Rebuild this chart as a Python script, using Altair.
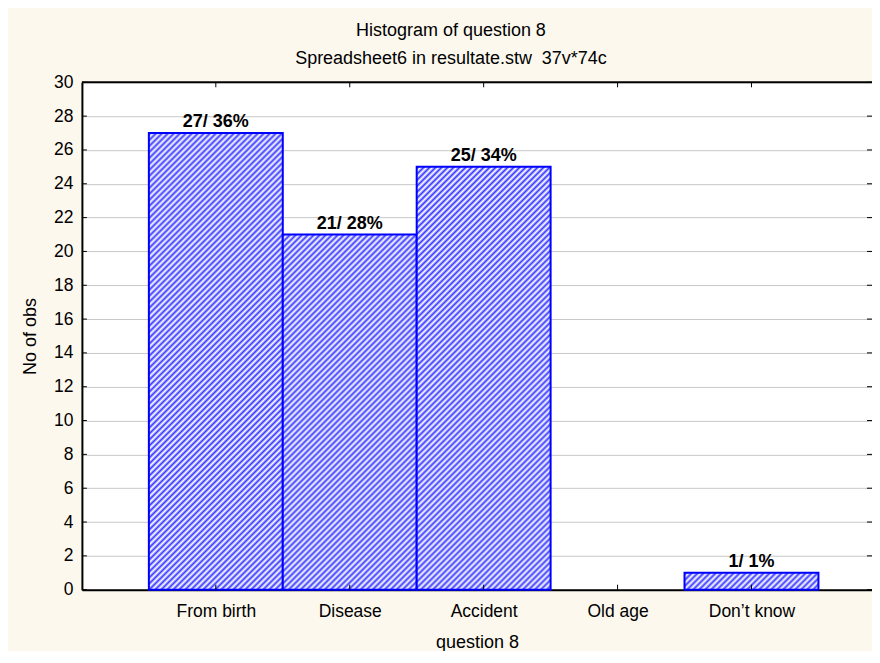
import json
import altair as alt
import pandas as pd

# ---- data ----
categories = ["From birth", "Disease", "Accident", "Old age", "Don\u2019t know"]
counts = [27, 21, 25, 0, 1]
percents = [36, 28, 34, 0, 1]
y_ticks = list(range(0, 31, 2))

# ---- layout ----
UNIT_W = 134
X_DOMAIN = [-1, 4.9]
W = round(UNIT_W * (X_DOMAIN[1] - X_DOMAIN[0]))
H = 508
Y_MAX = 30
UNIT_H = H / Y_MAX
FONT = "Arial, Liberation Sans, sans-serif"
FS = 18
FS_TICK = 17.5

df = pd.DataFrame({
    "cat": categories,
    "pos": list(range(len(categories))),
    "count": counts,
    "pct": percents,
})
df["x0"] = df["pos"] - 0.5
df["x1"] = df["pos"] + 0.5
df["label"] = [f"{c}/ {p}%" for c, p in zip(counts, percents)]
df_nz = df[df["count"] > 0]


def stripes(w, h, period=6.0, blue="#3C3CFF", white="#FFFFFF"):
    """45-degree '/' hatch as a linear gradient (bbox units), 2 stops per period."""
    L = w + h
    a = L / (w * (1 + (h / w) ** 2))
    stops = []
    k = 0
    while k * period / L < 1:
        ob = (k + 0.25) * period / L
        ow = (k + 0.75) * period / L
        if ob <= 1:
            stops.append(alt.GradientStop(offset=round(ob, 5), color=blue))
        if ow <= 1:
            stops.append(alt.GradientStop(offset=round(ow, 5), color=white))
        k += 1
    return alt.LinearGradient(gradient="linear", stops=stops,
                              x1=0, y1=0, x2=a, y2=a * h / w)


x_scale = alt.Scale(domain=X_DOMAIN, nice=False, zero=False)
y_scale = alt.Scale(domain=[0, Y_MAX], nice=False, zero=False)

x_axis = alt.Axis(
    values=list(range(len(categories))),
    labelExpr=json.dumps(categories) + "[datum.value]",
    grid=False, ticks=False,
    domain=True, domainColor="black", domainWidth=2,
    labelFontSize=FS_TICK, labelFont=FONT, labelColor="black", labelPadding=13,
    labelOverlap=False, labelFlush=False,
    title="question 8", titleFontSize=FS, titleFont=FONT, titleFontWeight="normal",
    titleColor="black", titleBaseline="alphabetic", titleY=58,
)
y_axis = alt.Axis(
    values=y_ticks,
    grid=True, gridColor="#C8C8C8", gridWidth=1,
    ticks=False,
    domain=True, domainColor="black", domainWidth=2,
    labelFontSize=FS_TICK, labelFont=FONT, labelColor="black", labelPadding=9,
    title="No of obs", titleFontSize=FS, titleFont=FONT, titleFontWeight="normal",
    titleColor="black", titleAngle=270, titleBaseline="alphabetic",
    titleAlign="center", titleX=-46, titleY=H / 2,
)

X = alt.X("x0:Q", scale=x_scale, axis=x_axis)
Y = alt.Y("count:Q", scale=y_scale, axis=y_axis)

layers = []
for i, n in enumerate(counts):
    if n <= 0:
        continue
    layers.append(
        alt.Chart(df)
        .transform_filter(alt.datum.pos == i)
        .mark_rect(fill=stripes(UNIT_W, n * UNIT_H), stroke="#0000FF", strokeWidth=2)
        .encode(x=X, x2="x1:Q", y=Y, y2=alt.datum(0))
    )

labels = (
    alt.Chart(df_nz)
    .mark_text(font=FONT, fontSize=FS, fontWeight="bold", color="black",
               baseline="alphabetic", dy=-6)
    .encode(x=alt.X("pos:Q", scale=x_scale, axis=x_axis),
            y=alt.Y("count:Q", scale=y_scale, axis=y_axis),
            text="label:N")
)

tick_df = pd.DataFrame({"v": y_ticks})
left_ticks = alt.Chart(tick_df).mark_rule(color="black", strokeWidth=1).encode(
    y=alt.Y("v:Q", scale=y_scale, axis=y_axis), x=alt.value(0), x2=alt.value(5))
right_ticks = alt.Chart(tick_df).mark_rule(color="black", strokeWidth=1).encode(
    y=alt.Y("v:Q", scale=y_scale, axis=y_axis), x=alt.value(W - 5), x2=alt.value(W))
bottom_ticks = alt.Chart(df).mark_rule(color="black", strokeWidth=1).encode(
    x=alt.X("pos:Q", scale=x_scale, axis=x_axis), y=alt.value(H - 5), y2=alt.value(H))
top_ticks = alt.Chart(df).mark_rule(color="black", strokeWidth=1).encode(
    x=alt.X("pos:Q", scale=x_scale, axis=x_axis), y=alt.value(0), y2=alt.value(5))
top_border = alt.Chart(df.head(1)).mark_rule(color="black", strokeWidth=2).encode(
    y=alt.value(0), x=alt.value(0), x2=alt.value(W))

chart = (
    alt.layer(*layers, labels, left_ticks, right_ticks, bottom_ticks, top_ticks, top_border)
    .properties(
        width=W, height=H,
        autosize=alt.AutoSizeParams(type="none"),
        padding={"left": 74, "top": 74, "right": 0, "bottom": 61},
        background="#FCF8EE",
        title=alt.TitleParams(
            text="Histogram of question 8",
            subtitle="Spreadsheet6 in resultate.stw\u00a0 37v*74c",
            font=FONT, subtitleFont=FONT,
            fontSize=FS, subtitleFontSize=FS,
            fontWeight="normal", color="black", subtitleColor="black",
            anchor="middle", dx=-26, offset=5, subtitlePadding=10,
        ),
    )
    .configure_view(fill="white", strokeWidth=0)
)

chart.save("out.html", embed_options={"renderer": "svg", "actions": False})
